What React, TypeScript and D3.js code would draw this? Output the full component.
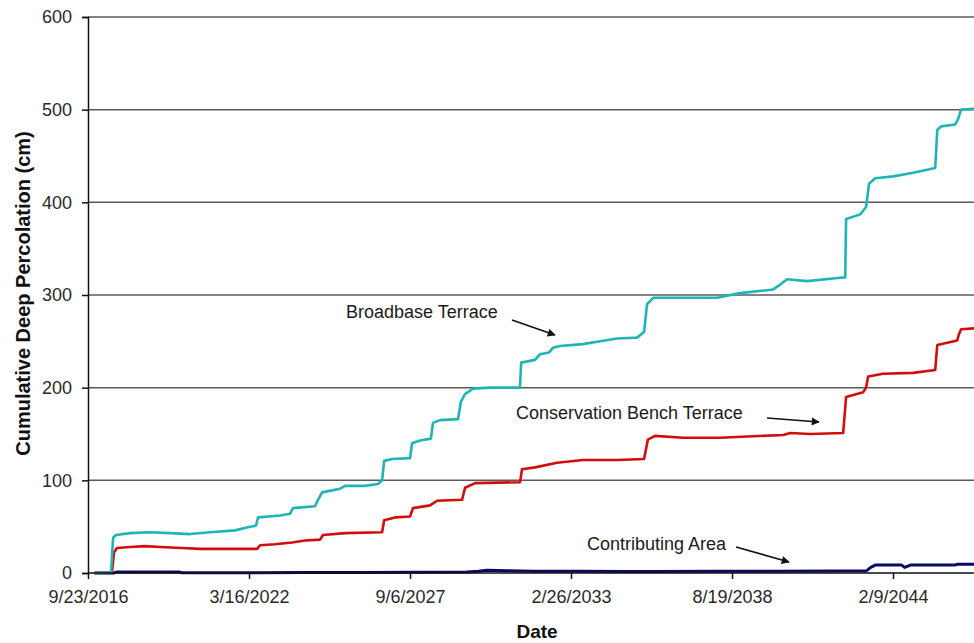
import React, { useEffect, useRef } from "react";
import * as d3 from "d3";

// ---- data (x in decimal years, y in cm) ----
const xTickLabels = ["9/23/2016", "3/16/2022", "9/6/2027", "2/26/2033", "8/19/2038", "2/9/2044"];
const yTickValues = [0, 100, 200, 300, 400, 500, 600];
const xDomainLabels = ["9/23/2016", "11/11/2046"];

const broadbaseYears = [2016.97, 2017.51, 2017.58, 2017.68, 2018.16, 2018.84, 2019.52, 2020.2, 2020.88, 2021.73, 2022.24, 2022.44, 2022.51, 2023.26, 2023.6, 2023.7, 2024.45, 2024.55, 2024.69, 2025.3, 2025.47, 2026.15, 2026.59, 2026.73, 2026.8, 2027.07, 2027.68, 2027.75, 2028.02, 2028.39, 2028.46, 2028.7, 2029.31, 2029.41, 2029.55, 2029.82, 2030.4, 2031.42, 2031.46, 2031.93, 2032.1, 2032.41, 2032.54, 2032.78, 2033.56, 2034.14, 2034.72, 2035.4, 2035.64, 2035.74, 2035.95, 2037.54, 2038.12, 2038.9, 2040.03, 2040.26, 2040.5, 2041.18, 2042.14, 2042.48, 2042.51, 2042.99, 2043.19, 2043.29, 2043.5, 2044.11, 2044.79, 2045.54, 2045.61, 2045.74, 2046.22, 2046.32, 2046.42, 2046.86];
const broadbaseValues = [0, 0, 38, 41, 43, 44, 43, 42, 44, 46, 50, 51, 60, 62, 64, 70, 72, 79, 87, 91, 94, 94, 96, 100, 121, 123, 124, 140, 143, 145, 162, 165, 166, 185, 193, 199, 200, 200, 227, 230, 236, 238, 243, 245, 247, 250, 253, 254, 260, 290, 297, 297, 297, 302, 306, 311, 317, 315, 318, 319, 382, 387, 395, 420, 426, 428, 432, 437, 478, 482, 484, 490, 500, 501];

const benchYears = [2016.97, 2017.54, 2017.61, 2017.71, 2018.16, 2018.67, 2019.18, 2019.92, 2020.54, 2022.48, 2022.58, 2023.09, 2023.67, 2024.11, 2024.62, 2024.72, 2025.47, 2026.73, 2026.8, 2027.17, 2027.68, 2027.78, 2028.36, 2028.6, 2029.45, 2029.55, 2029.89, 2031.42, 2031.49, 2031.93, 2032.68, 2033.56, 2034.72, 2035.64, 2035.77, 2036.01, 2036.97, 2038.22, 2040.37, 2040.61, 2041.29, 2042.41, 2042.51, 2043.09, 2043.19, 2043.26, 2043.77, 2044.79, 2045.54, 2045.61, 2046.29, 2046.35, 2046.42, 2046.86];
const benchValues = [0, 0, 22, 27, 28, 29, 28, 27, 26, 26, 30, 31, 33, 35, 36, 41, 43, 44, 57, 60, 61, 70, 73, 78, 79, 92, 97, 98, 112, 114, 119, 122, 122, 123, 144, 148, 146, 146, 149, 151, 150, 151, 190, 195, 200, 212, 215, 216, 219, 246, 251, 258, 263, 264];

const contribYears = [2016.97, 2017.6, 2017.7, 2019.82, 2019.92, 2022.0, 2024.0, 2026.0, 2029.6, 2030.0, 2030.3, 2031.0, 2031.9, 2033.5, 2035.0, 2036.0, 2038.0, 2040.0, 2042.0, 2043.2, 2043.35, 2043.5, 2044.4, 2044.5, 2044.7, 2046.2, 2046.3, 2046.86];
const contribValues = [0, 0, 1, 1.2, 0.3, 0.3, 0.5, 0.6, 1, 2, 3, 2.4, 2, 2, 1.5, 1.5, 1.8, 2, 2.2, 2.3, 6, 8.5, 8.5, 6, 8.5, 8.5, 9.5, 9.5];

const seriesNames = ["Contributing Area", "Conservation Bench Terrace", "Broadbase Terrace"];
const seriesColors = ["#0a0a64", "#d10d0d", "#1fb5b5"];

function yearToDate(y: number): Date {
  const yr = Math.floor(y);
  const start = Date.UTC(yr, 0, 1);
  const end = Date.UTC(yr + 1, 0, 1);
  return new Date(start + (y - yr) * (end - start));
}

export default function App() {
  const ref = useRef<SVGSVGElement | null>(null);

  useEffect(() => {
    const W = 974, H = 643;
    const m = { left: 88, top: 17, right: 0, bottom: 70 };
    const svg = d3.select(ref.current!);
    svg.selectAll("*").remove();

    const parse = d3.utcParse("%m/%d/%Y");
    const x = d3.scaleUtc()
      .domain(xDomainLabels.map((s) => parse(s)!))
      .range([m.left, W - m.right]);
    const y = d3.scaleLinear().domain([0, 600]).range([H - m.bottom, m.top]);

    const font = "Arial, 'Liberation Sans', Helvetica, sans-serif";

    svg.append("rect").attr("width", W).attr("height", H).attr("fill", "#fff");

    // gridlines
    svg.append("g")
      .selectAll("line")
      .data(yTickValues.filter((v) => v > 0))
      .join("line")
      .attr("x1", m.left).attr("x2", W)
      .attr("y1", (d) => y(d)).attr("y2", (d) => y(d))
      .attr("stroke", "#5a5a5a").attr("stroke-width", 1.5);

    // clip
    svg.append("clipPath").attr("id", "plotclip")
      .append("rect").attr("x", m.left).attr("y", m.top - 5)
      .attr("width", W - m.left).attr("height", H - m.bottom - m.top + 10);

    const seriesYears = [contribYears, benchYears, broadbaseYears];
    const seriesVals = [contribValues, benchValues, broadbaseValues];
    const line = d3.line<[Date, number]>()
      .x((d) => x(d[0]))
      .y((d) => y(d[1]));

    const lg = svg.append("g").attr("clip-path", "url(#plotclip)");
    seriesNames.forEach((name, i) => {
      const pts: [Date, number][] = seriesYears[i].map((yr, k) => [yearToDate(yr), seriesVals[i][k]]);
      lg.append("path")
        .datum(pts)
        .attr("d", line)
        .attr("fill", "none")
        .attr("stroke", seriesColors[i])
        .attr("stroke-width", i === 0 ? 3 : 2.6)
        .attr("stroke-linejoin", "round")
        .attr("stroke-linecap", "round")
        .attr("data-name", name);
    });

    // y axis
    const yAxis = d3.axisLeft(y).tickValues(yTickValues).tickSize(6).tickPadding(10)
      .tickFormat((d) => String(d));
    const yg = svg.append("g").attr("transform", `translate(${m.left},0)`).call(yAxis);
    yg.select(".domain").attr("stroke", "#111").attr("stroke-width", 1.5);
    yg.selectAll(".tick line").attr("stroke", "#111").attr("stroke-width", 1.5);
    yg.selectAll(".tick text").attr("font-family", font).attr("font-size", 18).attr("fill", "#2a2a2a");

    // x axis
    const tickDates = xTickLabels.map((s) => parse(s)!);
    const xAxis = d3.axisBottom(x).tickValues(tickDates).tickSize(6).tickPadding(11)
      .tickFormat((_d, i) => xTickLabels[i]);
    const xg = svg.append("g").attr("transform", `translate(0,${H - m.bottom})`).call(xAxis);
    xg.select(".domain").attr("stroke", "#111").attr("stroke-width", 1.5).attr("d", `M${m.left},0H${W}`);
    xg.selectAll(".tick line").attr("stroke", "#111").attr("stroke-width", 1.5);
    xg.selectAll(".tick text").attr("font-family", font).attr("font-size", 18).attr("fill", "#2a2a2a");

    // axis titles
    svg.append("text")
      .attr("transform", `translate(30,${(127 + 460) / 2}) rotate(-90)`)
      .attr("text-anchor", "middle")
      .attr("font-family", font).attr("font-weight", "bold").attr("font-size", 20)
      .attr("fill", "#111")
      .text("Cumulative Deep Percolation (cm)");
    svg.append("text")
      .attr("x", 537).attr("y", 638)
      .attr("text-anchor", "middle")
      .attr("font-family", font).attr("font-weight", "bold").attr("font-size", 19)
      .attr("fill", "#111")
      .text("Date");

    // annotations
    const defs = svg.append("defs");
    defs.append("marker").attr("id", "arrowhead")
      .attr("viewBox", "0 0 10 10").attr("refX", 9).attr("refY", 5)
      .attr("markerWidth", 9).attr("markerHeight", 8).attr("markerUnits", "userSpaceOnUse")
      .attr("orient", "auto")
      .append("path").attr("d", "M0,0L10,5L0,10z").attr("fill", "#111");

    const notes = [
      { text: seriesNames[2], tx: 346, ty: 318, ax1: 512, ay1: 320, ax2: 555, ay2: 335 },
      { text: seriesNames[1], tx: 516, ty: 419, ax1: 767, ay1: 418, ax2: 819, ay2: 422 },
      { text: seriesNames[0], tx: 587, ty: 550, ax1: 736, ay1: 547, ax2: 789, ay2: 562 },
    ];
    const ng = svg.append("g");
    notes.forEach((n) => {
      ng.append("text").attr("x", n.tx).attr("y", n.ty)
        .attr("font-family", font).attr("font-size", 18).attr("fill", "#1a1a1a")
        .text(n.text);
      ng.append("line")
        .attr("x1", n.ax1).attr("y1", n.ay1).attr("x2", n.ax2).attr("y2", n.ay2)
        .attr("stroke", "#111").attr("stroke-width", 1.6)
        .attr("marker-end", "url(#arrowhead)");
    });
  }, []);

  return (
    <svg
      ref={ref}
      width={974}
      height={643}
      style={{ position: "absolute", left: 0, top: 0, display: "block" }}
    />
  );
}
